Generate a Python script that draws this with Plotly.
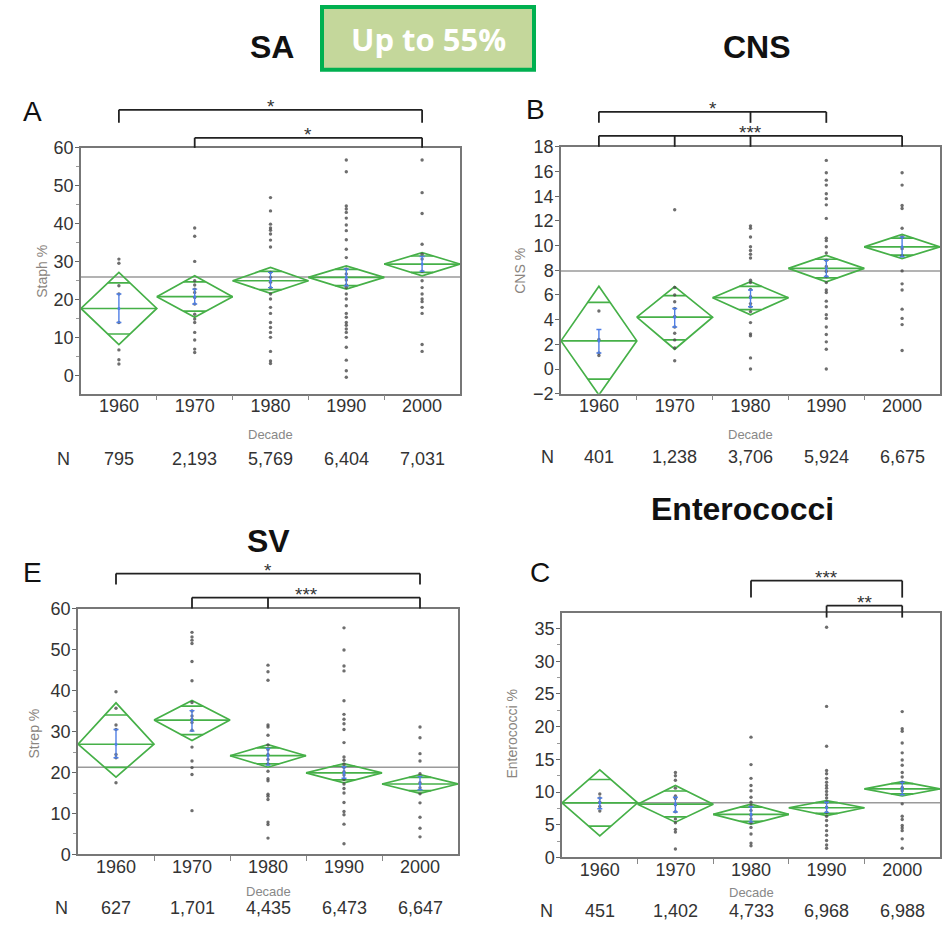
import math
import plotly.graph_objects as go

W, H = 942, 931
years = ["1960", "1970", "1980", "1990", "2000"]

# ---------------- SA (panel A) ----------------
sa_mean = [17.7, 20.8, 25.0, 25.9, 29.4]
sa_ci_hi = [27.2, 26.3, 28.5, 28.9, 32.4]
sa_ci_lo = [8.2, 15.4, 21.7, 22.8, 26.3]
sa_se_hi = [21.5, 22.8, 27.2, 28.1, 31.4]
sa_se_lo = [14.0, 18.9, 23.2, 23.7, 27.5]
sa_grand = 26.0
sa_n = ["795", "2,193", "5,769", "6,404", "7,031"]
sa_points = [
    [30.7, 29.6, 23.7, 21.5, 14.0, 6.8, 4.2, 3.1],
    [38.9, 36.7, 30.1, 25.0, 23.9, 22.8, 21.9, 20.6, 18.9, 16.2, 14.9, 14.0, 11.4, 9.4, 7.0, 6.1],
    [46.9, 43.4, 39.9, 38.9, 38.3, 37.3, 35.7, 33.9, 27.2, 25.9, 24.6, 23.2, 21.5, 20.2, 18.0,
     16.4, 14.0, 12.7, 11.4, 10.1, 6.4, 3.9, 3.2],
    [56.8, 53.7, 44.7, 43.9, 43.0, 41.5, 39.7, 38.2, 35.8, 33.3, 31.1, 28.1, 26.8, 25.2, 23.9,
     23.2, 21.5, 20.2, 18.4, 16.4, 15.4, 14.0, 13.3, 12.3, 11.4, 10.1, 7.5, 4.1, 1.3, -0.4],
    [56.8, 48.2, 42.7, 34.6, 32.0, 30.7, 27.5, 25.0, 23.2, 21.5, 20.2, 19.5, 18.0, 16.4, 8.2, 6.4],
]
sa_sig = [([0, 4], "*"), ([1, 4], "*")]

# ---------------- CNS (panel B) ----------------
cns_mean = [2.28, 4.2, 5.78, 8.15, 9.9]
cns_ci_hi = [6.7, 6.67, 7.07, 9.2, 10.9]
cns_ci_lo = [-2.1, 1.6, 4.4, 7.07, 8.95]
cns_se_hi = [3.2, 4.9, 6.4, 8.8, 10.7]
cns_se_lo = [1.3, 3.4, 5.05, 7.5, 9.1]
cns_grand = 7.95
cns_n = ["401", "1,238", "3,706", "5,924", "6,675"]
cns_points = [
    [4.7, 2.4, 1.3, 1.1],
    [12.9, 6.6, 6.0, 5.45, 4.9, 4.25, 3.4, 2.9, 2.36, 1.7, 0.67],
    [11.6, 11.4, 10.7, 9.9, 9.6, 9.3, 9.0, 7.2, 7.0, 6.45, 5.85, 5.3, 5.05, 4.65, 3.76, 2.85,
     2.7, 0.9, 0.0],
    [16.9, 15.9, 15.3, 14.9, 14.2, 13.8, 13.3, 12.2, 10.6, 10.4, 9.9, 9.4, 8.8, 8.3, 7.9, 7.5,
     7.0, 6.4, 6.2, 5.5, 5.05, 4.4, 4.1, 3.4, 2.8, 2.2, 1.6, 0.0],
    [15.9, 14.9, 13.25, 13.0, 11.4, 10.7, 9.75, 9.2, 7.95, 6.9, 6.4, 4.85, 4.1, 3.6, 1.5],
]
cns_sig = [([0, 2, 3], "*"), ([0, 1, 2, 4], "***")]

# ---------------- SV / Strep (panel E) ----------------
sv_mean = [26.9, 32.8, 24.1, 19.9, 17.2]
sv_ci_hi = [37.0, 37.6, 26.8, 22.2, 19.5]
sv_ci_lo = [18.9, 27.8, 21.3, 17.5, 14.9]
sv_se_hi = [30.5, 35.1, 25.9, 21.4, 19.0]
sv_se_lo = [23.6, 30.1, 21.8, 18.6, 15.8]
sv_grand = 21.3
sv_n = ["627", "1,701", "4,435", "6,473", "6,647"]
sv_points = [
    [39.7, 35.7, 31.6, 30.5, 24.4, 23.6, 17.5],
    [54.2, 53.1, 52.3, 51.5, 47.1, 42.4, 37.1, 35.0, 33.8, 33.0, 32.2, 30.3, 26.2, 22.8, 21.2,
     19.5, 10.7],
    [46.2, 44.6, 42.5, 31.6, 31.1, 29.1, 26.7, 25.6, 24.4, 23.2, 22.1, 20.3, 18.5, 18.0, 14.7,
     14.2, 13.4, 7.9, 7.3, 4.0],
    [55.3, 49.9, 46.0, 44.8, 37.5, 34.2, 33.0, 31.9, 30.5, 27.3, 23.8, 23.0, 22.0, 21.2, 20.2,
     19.4, 18.3, 17.2, 16.1, 15.0, 12.7, 10.5, 9.7, 7.4, 2.6],
    [31.1, 28.5, 24.6, 22.8, 19.7, 17.5, 16.3, 14.8, 12.6, 9.1, 6.4, 4.3],
]
sv_sig = [([0, 4], "*"), ([1, 2, 4], "***")]

# ---------------- Enterococci (panel C) ----------------
ent_mean = [8.36, 8.15, 6.6, 7.6, 10.5]
ent_ci_hi = [13.4, 11.0, 8.15, 8.7, 11.6]
ent_ci_lo = [3.3, 5.4, 5.1, 6.4, 9.4]
ent_se_hi = [9.1, 9.2, 7.75, 8.45, 11.5]
ent_se_lo = [7.45, 6.95, 5.45, 6.9, 9.6]
ent_grand = 8.36
ent_n = ["451", "1,402", "4,733", "6,968", "6,988"]
ent_points = [
    [9.7, 9.1, 8.45, 7.8, 7.1],
    [13.0, 12.5, 11.8, 10.6, 9.4, 9.0, 8.05, 7.0, 5.9, 5.3, 4.3, 3.9, 1.3],
    [18.4, 14.2, 12.1, 11.0, 10.2, 9.2, 8.45, 7.9, 7.2, 6.5, 5.9, 5.3, 4.6, 3.6, 2.2, 1.8],
    [35.2, 23.1, 17.0, 13.3, 12.8, 12.1, 11.5, 11.0, 10.6, 10.1, 9.6, 9.1, 8.45, 7.7, 6.9, 6.3,
     5.65, 4.9, 4.1, 3.4, 2.6, 1.9, 1.4],
    [22.3, 19.7, 19.3, 17.5, 16.0, 14.9, 14.1, 13.0, 12.3, 11.5, 10.7, 10.2, 8.2, 6.3, 5.8, 4.9,
     4.5, 4.1, 2.85, 1.4],
]
ent_sig = [([2, 4], "***"), ([3, 4], "**")]

GREEN = "#46b048"
BLUE = "#4f7fe6"
FONT = "Liberation Sans"

# the photographed page comes out slightly squeezed vertically; compensate
V_OFF, V_SCALE = 9.1, 0.979


def px(x):
    return x / W


def py(y):
    return 1 - ((y - V_OFF) / V_SCALE) / H


panels = [
    dict(sfx="", frame=(81, 460, 147, 393), yrange=[-4.74, 60], ytv=list(range(0, 61, 10)),
         minor=5, mean=sa_mean, hi=sa_ci_hi, lo=sa_ci_lo, sehi=sa_se_hi, selo=sa_se_lo,
         grand=sa_grand, pts=sa_points, n=sa_n, sig=sa_sig, ytitle="Staph %",
         ytitle_pos=(42, 271), decade_y=434, n_y=458, N_x=63,
         sig_y=[(109, 122), (137, 147)], letter=("A", 32, 111), title=("SA", 272, 46)),
    dict(sfx="2", frame=(561, 940, 146, 393), yrange=[-2, 18], ytv=list(range(-2, 19, 2)),
         minor=None, mean=cns_mean, hi=cns_ci_hi, lo=cns_ci_lo, sehi=cns_se_hi, selo=cns_se_lo,
         grand=cns_grand, pts=cns_points, n=cns_n, sig=cns_sig, ytitle="CNS %",
         ytitle_pos=(520, 270), decade_y=434, n_y=456, N_x=547,
         sig_y=[(111, 122), (135, 146)], letter=("B", 535, 109), title=("CNS", 757, 46)),
    dict(sfx="3", frame=(78, 458, 608, 854), yrange=[0, 60], ytv=list(range(0, 61, 10)),
         minor=5, mean=sv_mean, hi=sv_ci_hi, lo=sv_ci_lo, sehi=sv_se_hi, selo=sv_se_lo,
         grand=sv_grand, pts=sv_points, n=sv_n, sig=sv_sig, ytitle="Strep %",
         ytitle_pos=(34, 733), decade_y=891, n_y=908, N_x=61,
         sig_y=[(573, 584), (597, 608)], letter=("E", 32, 572), title=("SV", 268, 540)),
    dict(sfx="4", frame=(562, 940, 612, 857), yrange=[0, 37.44], ytv=list(range(0, 36, 5)),
         minor=2.5, mean=ent_mean, hi=ent_ci_hi, lo=ent_ci_lo, sehi=ent_se_hi, selo=ent_se_lo,
         grand=ent_grand, pts=ent_points, n=ent_n, sig=ent_sig, ytitle="Enterococci %",
         ytitle_pos=(512, 734), decade_y=892, n_y=911, N_x=546,
         sig_y=[(580, 597), (605, 617)], letter=("C", 540, 572), title=("Enterococci", 742, 508)),
]

fig = go.Figure()
shapes = []
annotations = []
layout = {}
R2 = 1 / math.sqrt(2)


def note(text, x, y, size, color, xref="paper", bold=False, angle=0, family=FONT):
    annotations.append(dict(
        text=("<b>%s</b>" % text) if bold else text, xref=xref, yref="paper",
        x=x, y=y, xanchor="center", yanchor="middle", showarrow=False, textangle=angle,
        font=dict(family=family, size=size, color=color)))


for p in panels:
    xa, ya = "x" + p["sfx"], "y" + p["sfx"]
    x0, x1, y0, y1 = p["frame"]
    cats = list(range(len(years)))
    fig.add_trace(go.Scatter(x=[-0.5, 4.5], y=[p["grand"]] * 2, mode="lines",
                             line=dict(color="#9a9a9a", width=1.5), xaxis=xa, yaxis=ya,
                             hoverinfo="skip", showlegend=False))
    dx, dy = [], []
    for i in cats:
        m, hi, lo = p["mean"][i], p["hi"][i], p["lo"][i]
        dx += [i - 0.5, i, i + 0.5, i, i - 0.5, None]
        dy += [m, hi, m, lo, m, None]
        dx += [i - 0.5, i + 0.5, None]
        dy += [m, m, None]
        w = 0.5 * (1 - R2)
        for v in (m + (hi - m) * R2, m - (m - lo) * R2):
            dx += [i - w, i + w, None]
            dy += [v, v, None]
    fig.add_trace(go.Scatter(x=dx, y=dy, mode="lines", line=dict(color=GREEN, width=1.7),
                             xaxis=xa, yaxis=ya, hoverinfo="skip", showlegend=False))
    ptx, pty = [], []
    for i, vals in enumerate(p["pts"]):
        ptx += [i] * len(vals)
        pty += vals
    fig.add_trace(go.Scatter(x=ptx, y=pty, mode="markers",
                             marker=dict(color="#4a4a4a", size=3.4, opacity=0.8),
                             xaxis=xa, yaxis=ya, showlegend=False))
    fig.add_trace(go.Scatter(
        x=cats, y=p["mean"], mode="markers", marker=dict(color=BLUE, size=3),
        error_y=dict(type="data", symmetric=False,
                     array=[h - m for h, m in zip(p["sehi"], p["mean"])],
                     arrayminus=[m - l for l, m in zip(p["selo"], p["mean"])],
                     color=BLUE, thickness=1.4, width=2.5),
        xaxis=xa, yaxis=ya, showlegend=False))

    layout["xaxis" + p["sfx"]] = dict(
        domain=[px(x0), px(x1)], range=[-0.5, 4.5], anchor=ya,
        tickmode="array", tickvals=cats, ticktext=years, ticks="",
        ticklabelstandoff=-5,
        tickfont=dict(family=FONT, size=18, color="#333"),
        showline=True, linecolor="#777", linewidth=1.5, mirror=True,
        showgrid=False, zeroline=False,
        minor=dict(tickmode="array", tickvals=[0.5, 1.5, 2.5, 3.5], ticks="outside",
                   ticklen=5, tickcolor="#888", tickwidth=1),
    )
    ydict = dict(
        domain=[py(y1), py(y0)], range=p["yrange"], anchor=xa,
        tickmode="array", tickvals=p["ytv"], ticks="outside", ticklen=4, tickcolor="#666",
        ticklabelstandoff=-2,
        tickfont=dict(family=FONT, size=18, color="#333"),
        showline=True, linecolor="#777", linewidth=1.5, mirror=True,
        showgrid=False, zeroline=False,
    )
    if p["minor"]:
        ydict["minor"] = dict(dtick=p["minor"], ticks="outside", ticklen=3, tickcolor="#999")
    layout["yaxis" + p["sfx"]] = ydict

    note(p["ytitle"], px(p["ytitle_pos"][0]), py(p["ytitle_pos"][1]), 14, "#8a8580", angle=-90)
    note("Decade", px((x0 + x1) / 2), py(p["decade_y"]), 13, "#888")
    note("N", px(p["N_x"]), py(p["n_y"]), 18, "#333")
    for i, nv in enumerate(p["n"]):
        note(nv, i, py(p["n_y"]), 18, "#333", xref=xa)
    L, lx, ly = p["letter"]
    note(L, px(lx), py(ly), 28, "#111")
    T, tx, ty = p["title"]
    note(T, px(tx), py(ty), 32, "#111", bold=True)
    for (idxs, label), (ly_line, ly_end) in zip(p["sig"], p["sig_y"]):
        a, b = min(idxs), max(idxs)
        shapes.append(dict(type="line", xref=xa, yref="paper", x0=a, x1=b,
                           y0=py(ly_line), y1=py(ly_line), line=dict(color="#222", width=1.8)))
        for k in idxs:
            shapes.append(dict(type="line", xref=xa, yref="paper", x0=k, x1=k,
                               y0=py(ly_line), y1=py(ly_end), line=dict(color="#222", width=1.8)))
        note(label, (a + b) / 2, py(ly_line - 3), 19, "#333", xref=xa)

shapes.append(dict(type="rect", xref="paper", yref="paper", x0=px(322), x1=px(534),
                   y0=py(69), y1=py(6), fillcolor="#c4d79b",
                   line=dict(color="#00b050", width=4)))
note("Up to 55%", px(428), py(38), 31, "white", bold=True, family="Open Sans")

fig.update_layout(
    width=W, height=H, margin=dict(l=0, r=0, t=0, b=0),
    plot_bgcolor="white", paper_bgcolor="white", showlegend=False,
    shapes=shapes, annotations=annotations, **layout,
)
fig.write_html("out.html")
